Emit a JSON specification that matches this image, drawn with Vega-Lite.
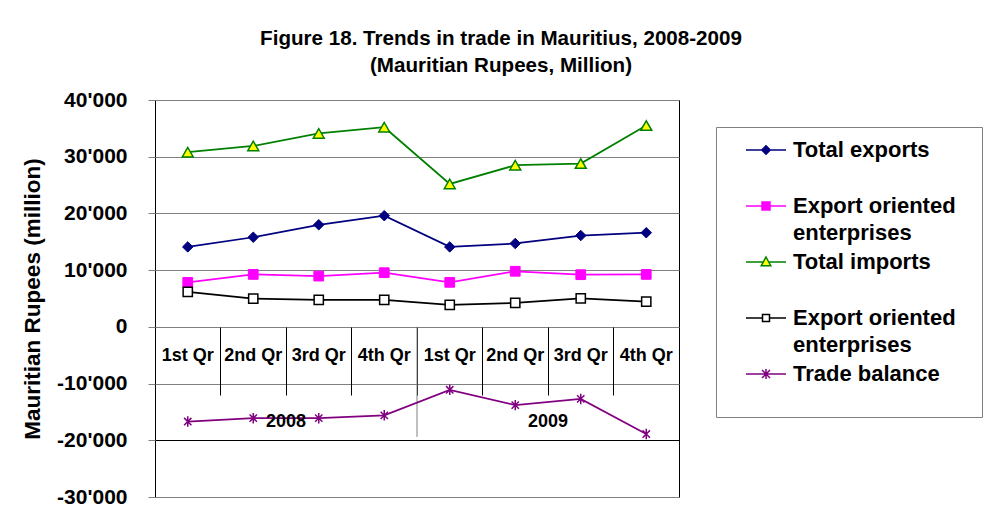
{
  "$schema": "https://vega.github.io/schema/vega-lite/v6.json",
  "width": 524,
  "height": 397,
  "autosize": {"type": "none"},
  "padding": {"left": 155, "top": 100, "right": 318, "bottom": 31},
  "background": "white",
  "title": {
    "text": ["Figure 18. Trends in trade in Mauritius, 2008-2009", "(Mauritian Rupees, Million)"],
    "fontSize": 20.6,
    "fontWeight": "bold",
    "lineHeight": 27,
    "anchor": "middle",
    "dx": 84,
    "offset": 12,
    "color": "black"
  },
  "datasets": {
    "trade": [
      {"period": "2008 1st Qr", "series": "Total exports", "value": 14100},
      {"period": "2008 2nd Qr", "series": "Total exports", "value": 15800},
      {"period": "2008 3rd Qr", "series": "Total exports", "value": 18000},
      {"period": "2008 4th Qr", "series": "Total exports", "value": 19600},
      {"period": "2009 1st Qr", "series": "Total exports", "value": 14100},
      {"period": "2009 2nd Qr", "series": "Total exports", "value": 14700},
      {"period": "2009 3rd Qr", "series": "Total exports", "value": 16100},
      {"period": "2009 4th Qr", "series": "Total exports", "value": 16600},
      {"period": "2008 1st Qr", "series": "Export oriented enterprises (exports)", "value": 7850},
      {"period": "2008 2nd Qr", "series": "Export oriented enterprises (exports)", "value": 9250},
      {"period": "2008 3rd Qr", "series": "Export oriented enterprises (exports)", "value": 8950},
      {"period": "2008 4th Qr", "series": "Export oriented enterprises (exports)", "value": 9550},
      {"period": "2009 1st Qr", "series": "Export oriented enterprises (exports)", "value": 7850},
      {"period": "2009 2nd Qr", "series": "Export oriented enterprises (exports)", "value": 9800},
      {"period": "2009 3rd Qr", "series": "Export oriented enterprises (exports)", "value": 9200},
      {"period": "2009 4th Qr", "series": "Export oriented enterprises (exports)", "value": 9250},
      {"period": "2008 1st Qr", "series": "Total imports", "value": 30800},
      {"period": "2008 2nd Qr", "series": "Total imports", "value": 31900},
      {"period": "2008 3rd Qr", "series": "Total imports", "value": 34100},
      {"period": "2008 4th Qr", "series": "Total imports", "value": 35200},
      {"period": "2009 1st Qr", "series": "Total imports", "value": 25200},
      {"period": "2009 2nd Qr", "series": "Total imports", "value": 28500},
      {"period": "2009 3rd Qr", "series": "Total imports", "value": 28800},
      {"period": "2009 4th Qr", "series": "Total imports", "value": 35500},
      {"period": "2008 1st Qr", "series": "Export oriented enterprises (imports)", "value": 6150},
      {"period": "2008 2nd Qr", "series": "Export oriented enterprises (imports)", "value": 4980},
      {"period": "2008 3rd Qr", "series": "Export oriented enterprises (imports)", "value": 4750},
      {"period": "2008 4th Qr", "series": "Export oriented enterprises (imports)", "value": 4750},
      {"period": "2009 1st Qr", "series": "Export oriented enterprises (imports)", "value": 3870},
      {"period": "2009 2nd Qr", "series": "Export oriented enterprises (imports)", "value": 4220},
      {"period": "2009 3rd Qr", "series": "Export oriented enterprises (imports)", "value": 5040},
      {"period": "2009 4th Qr", "series": "Export oriented enterprises (imports)", "value": 4450},
      {"period": "2008 1st Qr", "series": "Trade balance", "value": -16700},
      {"period": "2008 2nd Qr", "series": "Trade balance", "value": -16100},
      {"period": "2008 3rd Qr", "series": "Trade balance", "value": -16100},
      {"period": "2008 4th Qr", "series": "Trade balance", "value": -15600},
      {"period": "2009 1st Qr", "series": "Trade balance", "value": -11100},
      {"period": "2009 2nd Qr", "series": "Trade balance", "value": -13800},
      {"period": "2009 3rd Qr", "series": "Trade balance", "value": -12700},
      {"period": "2009 4th Qr", "series": "Trade balance", "value": -18900}
    ],
    "years": [
      {"year": "2008", "middle": "2008 3rd Qr"},
      {"year": "2009", "middle": "2009 3rd Qr"}
    ],
    "divider": [
      {"start": "2009 1st Qr"}
    ]
  },
  "layer": [
    {
      "data": {"name": "divider"},
      "mark": {"type": "rule", "color": "#808080", "strokeWidth": 1},
      "encoding": {
        "x": {
          "field": "start",
          "type": "nominal",
          "bandPosition": 0,
          "title": null,
          "scale": {
            "domain": ["2008 1st Qr", "2008 2nd Qr", "2008 3rd Qr", "2008 4th Qr", "2009 1st Qr", "2009 2nd Qr", "2009 3rd Qr", "2009 4th Qr"],
            "paddingInner": 0,
            "paddingOuter": 0
          },
          "axis": {
            "title": null,
            "orient": "bottom",
            "offset": -170,
            "labelExpr": "slice(datum.label, 5)",
            "labelAngle": 0,
            "labelFontSize": 18,
            "labelFontWeight": "bold",
            "labelColor": "black",
            "bandPosition": 0,
            "labelOverlap": false,
            "tickSize": 68,
            "tickColor": "black",
            "tickWidth": 1,
            "domain": false,
            "grid": false,
            "labelPadding": -49,
            "labelBaseline": "top"
          }
        },
        "y": {
          "datum": 0,
          "type": "quantitative",
          "title": "Mauritian Rupees (million)",
          "scale": {"domain": [-30000, 40000], "nice": false, "zero": false},
          "axis": {
            "values": [-30000, -20000, -10000, 0, 10000, 20000, 30000, 40000],
            "labelExpr": "datum.value == 0 ? '0' : (datum.value < 0 ? '-' : '') + abs(datum.value / 1000) + \"'000\"",
            "grid": true,
            "gridColor": {"condition": {"test": "datum.value === -20000", "value": "#000000"}, "value": "#808080"},
            "gridWidth": 1,
            "tickColor": "#808080",
            "tickSize": 7,
            "labelPadding": 21,
            "labelFontSize": 21,
            "labelFontWeight": "bold",
            "labelColor": "black",
            "domain": false,
            "title": "Mauritian Rupees (million)",
            "titleFontSize": 22.5,
            "titleFontWeight": "bold",
            "titleColor": "black",
            "titlePadding": 12
          }
        },
        "y2": {"datum": -19400}
      }
    },
    {
      "data": {"name": "trade"},
      "mark": {"type": "line", "strokeWidth": 1.75},
      "encoding": {
        "x": {"field": "period", "type": "nominal", "title": null},
        "y": {"field": "value", "type": "quantitative", "title": "Mauritian Rupees (million)"},
        "color": {
          "field": "series",
          "type": "nominal",
          "scale": {
            "domain": ["Total exports", "Export oriented enterprises (exports)", "Total imports", "Export oriented enterprises (imports)", "Trade balance"],
            "range": ["#000080", "#FF00FF", "#008000", "#000000", "#800080"]
          },
          "legend": {
            "orient": "none",
            "legendX": 561,
            "legendY": 27,
            "title": "\u00a0",
            "titleOrient": "right",
            "titleFontSize": 1,
            "titlePadding": 14,
            "titleColor": "white",
            "strokeColor": "#808080",
            "padding": 12,
            "symbolSize": 100,
            "symbolOffset": 27,
            "labelOffset": 16,
            "rowPadding": 7,
            "labelFontSize": 22,
            "labelFontWeight": "bold",
            "labelColor": "black",
            "labelLimit": 400,
            "labelBaseline": "middle",
            "labelExpr": "datum.label == 'Total exports' || datum.label == 'Total imports' || datum.label == 'Trade balance' ? [datum.label, '\u00a0'] : ['Export oriented', 'enterprises']",
            "encode": {
              "labels": {"update": {"lineHeight": {"signal": "datum.value == 'Trade balance' ? 20 : 27"}}},
              "symbols": {
                "update": {
                  "shape": {"signal": "datum.value == 'Total exports' ? 'M-4,0L-0.85,0M0.85,0L4,0M0,-0.85L0.85,0L0,0.85L-0.85,0Z' : datum.value == 'Export oriented enterprises (exports)' ? 'M-4,0L-0.8,0M0.8,0L4,0M-0.8,-0.8L0.8,-0.8L0.8,0.8L-0.8,0.8Z' : datum.value == 'Total imports' ? 'M-4,0L-0.54,0M0.54,0L4,0M0,-1L0.95,0.75L-0.95,0.75Z' : datum.value == 'Export oriented enterprises (imports)' ? 'M-4,0L-0.7,0M0.7,0L4,0M-0.7,-0.7L0.7,-0.7L0.7,0.7L-0.7,0.7Z' : 'M-4,0L4,0M-0.8,-0.8L0.8,0.8M-0.8,0.8L0.8,-0.8M0,-1L0,1'"},
                  "fill": {"signal": "datum.value == 'Total exports' ? '#000080' : datum.value == 'Export oriented enterprises (exports)' ? '#FF00FF' : datum.value == 'Total imports' ? '#FFFF00' : datum.value == 'Export oriented enterprises (imports)' ? '#FFFFFF' : 'transparent'"},
                  "stroke": {"signal": "datum.value == 'Total exports' ? '#000080' : datum.value == 'Export oriented enterprises (exports)' ? '#FF00FF' : datum.value == 'Total imports' ? '#008000' : datum.value == 'Export oriented enterprises (imports)' ? '#000000' : '#800080'"},
                  "strokeWidth": {"value": 1.5},
                  "opacity": {"value": 1}
                }
              }
            }
          }
        }
      }
    },
    {
      "data": {"name": "trade"},
      "transform": [{"filter": "datum.series == 'Total exports'"}],
      "mark": {"type": "point", "shape": "diamond", "size": 110, "filled": true, "fill": "#000080", "stroke": "#000080", "strokeWidth": 1, "opacity": 1},
      "encoding": {
        "x": {"field": "period", "type": "nominal", "title": null},
        "y": {"field": "value", "type": "quantitative", "title": "Mauritian Rupees (million)"}
      }
    },
    {
      "data": {"name": "trade"},
      "transform": [{"filter": "datum.series == 'Export oriented enterprises (exports)'"}],
      "mark": {"type": "point", "shape": "square", "size": 95, "filled": true, "fill": "#FF00FF", "stroke": "#FF00FF", "strokeWidth": 1, "opacity": 1},
      "encoding": {
        "x": {"field": "period", "type": "nominal", "title": null},
        "y": {"field": "value", "type": "quantitative", "title": "Mauritian Rupees (million)"}
      }
    },
    {
      "data": {"name": "trade"},
      "transform": [{"filter": "datum.series == 'Total imports'"}],
      "mark": {"type": "point", "shape": "triangle-up", "size": 120, "filled": true, "fill": "#FFFF00", "stroke": "#008000", "strokeWidth": 1.5, "opacity": 1},
      "encoding": {
        "x": {"field": "period", "type": "nominal", "title": null},
        "y": {"field": "value", "type": "quantitative", "title": "Mauritian Rupees (million)"}
      }
    },
    {
      "data": {"name": "trade"},
      "transform": [{"filter": "datum.series == 'Export oriented enterprises (imports)'"}],
      "mark": {"type": "point", "shape": "square", "size": 85, "filled": true, "fill": "#FFFFFF", "stroke": "#000000", "strokeWidth": 1.5, "opacity": 1},
      "encoding": {
        "x": {"field": "period", "type": "nominal", "title": null},
        "y": {"field": "value", "type": "quantitative", "title": "Mauritian Rupees (million)"}
      }
    },
    {
      "data": {"name": "trade"},
      "transform": [{"filter": "datum.series == 'Trade balance'"}],
      "mark": {"type": "point", "shape": "M-0.7,-0.7L0.7,0.7M-0.7,0.7L0.7,-0.7M0,-1L0,1", "size": 110, "filled": false, "stroke": "#800080", "strokeWidth": 1.5, "opacity": 1},
      "encoding": {
        "x": {"field": "period", "type": "nominal", "title": null},
        "y": {"field": "value", "type": "quantitative", "title": "Mauritian Rupees (million)"}
      }
    },
    {
      "data": {"name": "years"},
      "mark": {"type": "text", "fontSize": 18, "fontWeight": "bold", "color": "black", "baseline": "middle", "align": "center"},
      "encoding": {
        "x": {"field": "middle", "type": "nominal", "bandPosition": 0, "title": null},
        "y": {"datum": -16800, "type": "quantitative", "title": "Mauritian Rupees (million)"},
        "text": {"field": "year"}
      }
    }
  ],
  "config": {
    "font": "Liberation Sans",
    "view": {"stroke": "#000000", "strokeWidth": 1}
  }
}
